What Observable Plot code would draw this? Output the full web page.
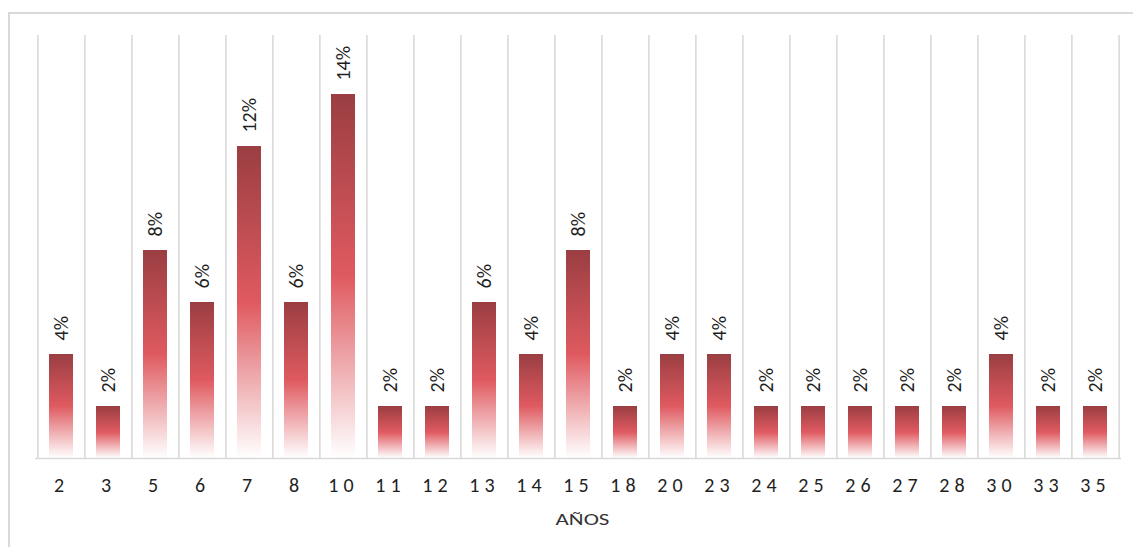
<!DOCTYPE html>
<html>
<head>
<meta charset="utf-8">
<script src="https://cdn.jsdelivr.net/npm/d3@7"></script>
<script src="https://cdn.jsdelivr.net/npm/@observablehq/plot@0.6"></script>
<style>
  html, body { margin: 0; padding: 0; background: #fff; }
  #wrap { position: relative; width: 1133px; height: 547px; overflow: hidden; }
  #border { position: absolute; left: 8px; top: 12px; width: 1200px; height: 600px;
            border-top: 2px solid #d9d9d9; border-left: 2px solid #d9d9d9; pointer-events: none; }
</style>
</head>
<body>
<div id="wrap"><div id="chart"></div><div id="border"></div></div>
<script>
const years = ["2","3","5","6","7","8","10","11","12","13","14","15","18","20","23","24","25","26","27","28","30","33","35"];
const shares = [0.04,0.02,0.08,0.06,0.12,0.06,0.14,0.02,0.02,0.06,0.04,0.08,0.02,0.04,0.04,0.02,0.02,0.02,0.02,0.02,0.04,0.02,0.02];
const axisTitle = "AÑOS";

const data = years.map((y, i) => ({year: y, share: shares[i]}));

const W = 1133, H = 547, mL = 35, mR = 12, mT = 35, mB = 89;
const step = (W - mL - mR) / years.length;
const font = "Calibri, Carlito, 'Liberation Sans', sans-serif";

function gradientDefs() {
  const ns = "http://www.w3.org/2000/svg";
  const defs = document.createElementNS(ns, "defs");
  const g = document.createElementNS(ns, "linearGradient");
  g.setAttribute("id", "barGrad");
  g.setAttribute("x1", "0"); g.setAttribute("y1", "0");
  g.setAttribute("x2", "0"); g.setAttribute("y2", "1");
  [["0%", "#9a3e42"], ["50%", "#df5a60"], ["100%", "#ffffff"]].forEach(([o, c]) => {
    const s = document.createElementNS(ns, "stop");
    s.setAttribute("offset", o); s.setAttribute("stop-color", c);
    g.appendChild(s);
  });
  defs.appendChild(g);
  return defs;
}

const plot = Plot.plot({
  width: W, height: H,
  marginLeft: mL, marginRight: mR, marginTop: mT, marginBottom: mB,
  style: {background: "transparent", fontFamily: font},
  x: {domain: years, paddingInner: 0.49, paddingOuter: 0.245, label: null},
  y: {domain: [0, 0.1627], axis: null},
  marks: [
    gradientDefs,
    Plot.ruleX(years, {x: d => d, dx: -step / 2, stroke: "#d9d9d9", strokeWidth: 1.6}),
    Plot.ruleX([years[years.length - 1]], {x: d => d, dx: step / 2, stroke: "#d9d9d9", strokeWidth: 1.6}),
    Plot.barY(data, {x: "year", y: "share", fill: "url(#barGrad)"}),
    Plot.ruleY([0], {stroke: "#d9d9d9", strokeWidth: 1.6}),
    Plot.text(data, {x: "year", y: "share", text: d => Math.round(d.share * 100) + "%",
      rotate: -90, textAnchor: "start", lineAnchor: "middle", dy: -14,
      fontSize: 20, fill: "#1f1f1f"}),
    Plot.axisX({tickSize: 0, tickPadding: 19, fontSize: 20, fill: "#1f1f1f", label: null}),
    Plot.text([axisTitle], {frameAnchor: "bottom", dy: 61, lineAnchor: "middle",
      fontSize: 17, fill: "#333", dx: 4})
  ]
});
d3.select(plot).selectAll('g[aria-label="x-axis tick label"] text').style("letter-spacing", "5px");
d3.select(plot).selectAll("text").filter(function () { return this.textContent === axisTitle; })
  .each(function () {
    const sx = 1.35;
    const x = this.getAttribute("x");
    if (x != null) this.setAttribute("x", (+x) / sx);
    const tr = this.getAttribute("transform") || "";
    this.setAttribute("transform", (tr + ` scale(${sx},1)`).trim());
    const parentTr = this.parentNode.getAttribute("transform");
  });
document.getElementById("chart").appendChild(plot);
</script>
</body>
</html>
